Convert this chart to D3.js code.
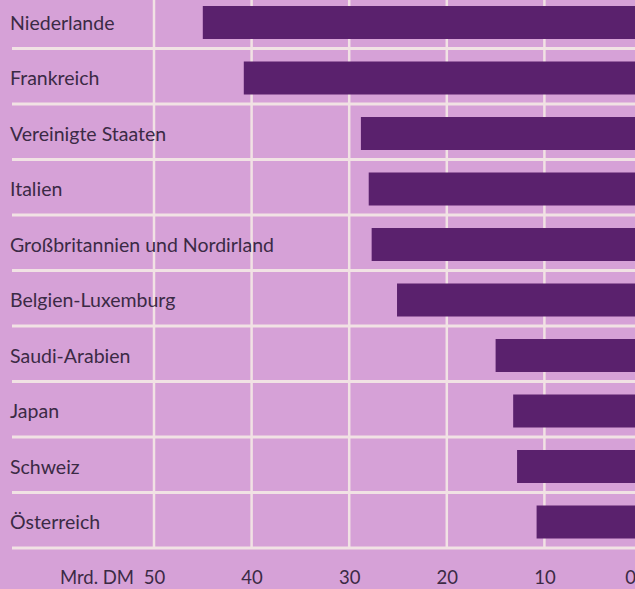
<!DOCTYPE html>
<html>
<head>
<meta charset="utf-8">
<script src="https://cdn.jsdelivr.net/npm/d3@7"></script>
<style>
    html, body { margin: 0; padding: 0; background: #d6a2d8; }
    #chart { width: 635px; height: 589px; overflow: hidden; }
    .label { font-family: Lato, "DejaVu Sans", sans-serif; fill: #3b2a45; }
</style>
</head>
<body>
<div id="chart"></div>
<script>
// Einfuhr nach Herkunftsländern, Mrd. DM
const countries = ["Niederlande", "Frankreich", "Vereinigte Staaten", "Italien",
                   "Großbritannien und Nordirland", "Belgien-Luxemburg", "Saudi-Arabien",
                   "Japan", "Schweiz", "Österreich"];
const values = [45.0, 40.8, 28.8, 28.0, 27.7, 25.1, 15.0, 13.2, 12.8, 10.8];
const tickValues = [50, 40, 30, 20, 10, 0];
const unitLabel = "Mrd. DM";

function MirrorBarChart() {

    let self = this;

    self.initialize = function(conf) {
        self.el = document.getElementById(conf.el);
        self.graphWidth = self.el.offsetWidth;
        self.graphHeight = self.el.offsetHeight;

        self.bg = "#d6a1d7";
        self.barColor = "#5a216d";
        self.lineColor = "#f1e2e4";

        self.top = -7;
        self.bottom = 548;
        self.data = conf.categories.map((c, i) => ({key: c, value: conf.values[i]}));
        self.parseData();
    }

    self.parseData = function() {
        // bars grow from the right edge to the left
        self.xScale = d3.scaleLinear()
                        .domain([50, 0])
                        .range([154, 642]);

        self.rowScale = d3.scaleBand()
                        .domain(self.data.map(d => d.key))
                        .range([self.top, self.bottom])
                        .padding(0);
        self.render();
    }

    self.render = function() {
        self.svg = d3.select(self.el).append("svg")
                        .attr("width", self.graphWidth)
                        .attr("height", self.graphHeight);

        self.svg.append("rect")
                .attr("width", self.graphWidth)
                .attr("height", self.graphHeight)
                .attr("fill", self.bg);

        self.renderGrid();
        self.renderBars();
        self.renderLabels();
        self.renderAxis();
    }

    self.renderGrid = function() {
        /*  vertical lines at 50..10  */
        self.svg.selectAll(".vline")
                .data(tickValues.filter(t => t > 0))
                .enter().append("line")
                .attr("class", "vline")
                .attr("x1", d => self.xScale(d))
                .attr("x2", d => self.xScale(d))
                .attr("y1", 0)
                .attr("y2", self.bottom)
                .attr("stroke", self.lineColor)
                .attr("stroke-width", 2.5);

        /*  row separators  */
        self.svg.selectAll(".hline")
                .data(self.data)
                .enter().append("line")
                .attr("class", "hline")
                .attr("x1", 12)
                .attr("x2", self.graphWidth)
                .attr("y1", d => self.rowScale(d.key) + self.rowScale.bandwidth())
                .attr("y2", d => self.rowScale(d.key) + self.rowScale.bandwidth())
                .attr("stroke", self.lineColor)
                .attr("stroke-width", 3);
    }

    self.renderBars = function() {
        let barH = 33;
        self.svg.selectAll(".bar")
                .data(self.data)
                .enter().append("rect")
                .attr("class", "bar")
                .attr("x", d => self.xScale(d.value))
                .attr("y", d => self.rowScale(d.key) + 13)
                .attr("width", d => self.xScale(0) - self.xScale(d.value))
                .attr("height", barH)
                .attr("fill", self.barColor);
    }

    self.renderLabels = function() {
        self.svg.selectAll(".country")
                .data(self.data)
                .enter().append("text")
                .attr("class", "label country")
                .attr("x", 10)
                .attr("y", d => self.rowScale(d.key) + self.rowScale.bandwidth() / 2 + 2)
                .attr("dy", "0.35em")
                .style("font-size", "19.5px")
                .text(d => d.key);
    }

    self.renderAxis = function() {
        let axis = self.svg.append("g")
                        .attr("transform", "translate(0,578)")
                        .call(d3.axisBottom(self.xScale).tickValues(tickValues).tickSize(0).tickPadding(0));
        axis.select(".domain").remove();
        axis.selectAll("text")
            .attr("class", "label")
            .attr("fill", null)
            .style("font-size", "18.5px")
            .attr("dy", "0.32em")
            .attr("dx", d => d === 0 ? -12 : 0);

        self.svg.append("text")
                .attr("class", "label")
                .attr("x", 134)
                .attr("y", 578)
                .attr("dy", "0.32em")
                .attr("text-anchor", "end")
                .style("font-size", "18.5px")
                .text(unitLabel);
    }
}

let chart = new MirrorBarChart();
chart.initialize({el: "chart", categories: countries, values: values});
</script>
</body>
</html>
